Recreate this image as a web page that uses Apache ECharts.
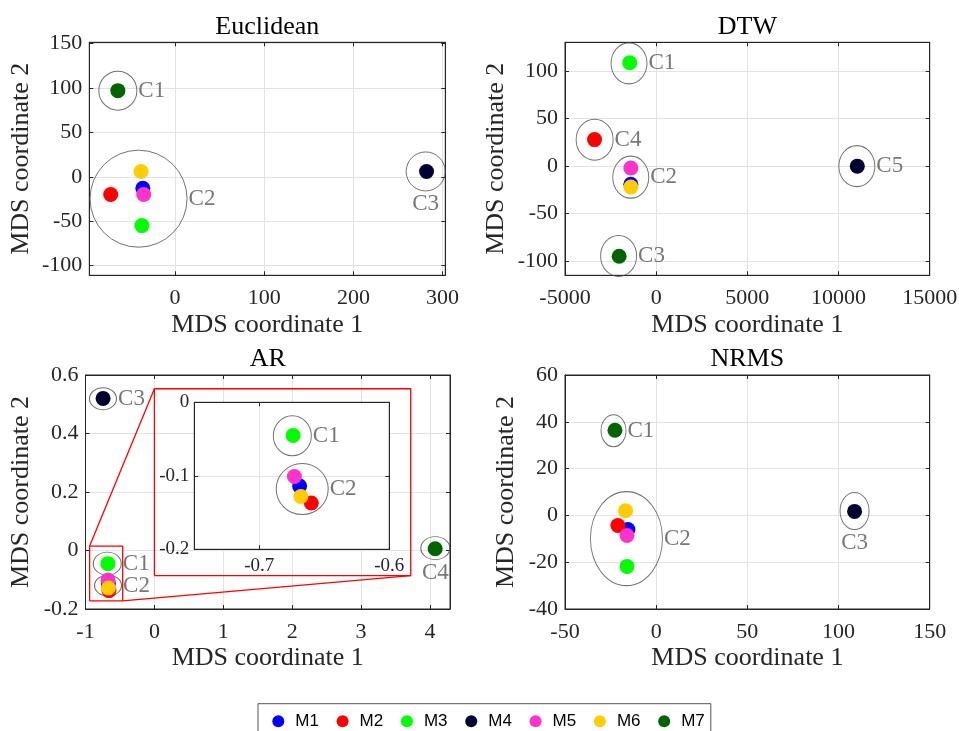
<!DOCTYPE html>
<html><head><meta charset="utf-8">
<script src="https://cdn.jsdelivr.net/npm/echarts@6/dist/echarts.min.js"></script>
<style>html,body{margin:0;padding:0;background:#fff}#c{width:959px;height:731px}</style>
</head><body><div id="c"></div><script>
// ---------------- DATA ----------------
const methods = ['M1','M2','M3','M4','M5','M6','M7'];

const euclideanX = [-36, -72, -37, 282, -35, -38, -64];
const euclideanY = [-13, -20, -55, 6, -20, 6, 97];
const dtwX = [-1390, -3380, -1450, 11030, -1390, -1390, -2030];
const dtwY = [-19, 28, 109, 0, -2, -22, -95];
const arX = [-0.669, -0.660, -0.674, -0.745, -0.673, -0.668, 4.075];
const arY = [-0.114, -0.137, -0.045, 0.52, -0.101, -0.128, 0.006];
const nrmsX = [-15.5, -21, -16, 108.8, -16, -16.8, -22.6];
const nrmsY = [-6, -4.3, -21.8, 1.7, -8.6, 2.0, 36.4];

const euclideanClusterNames = ['C1','C2','C3'];
const euclideanClusterX = [-64, -40.8, 281];
const euclideanClusterY = [97, -24.7, 6];
const dtwClusterNames = ['C1','C2','C3','C4','C5'];
const dtwClusterX = [-1490, -1395, -2060, -3375, 11005];
const dtwClusterY = [108.3, -11.6, -94.6, 27.9, 0];
const arClusterNames = ['C1','C2','C3','C4'];
const arClusterX = [-0.684, -0.673, -0.746, 4.077];
const arClusterY = [-0.045, -0.12, 0.519, 0.008];
const arInsetClusterNames = ['C1','C2'];
const arInsetClusterX = [-0.6746, -0.667];
const arInsetClusterY = [-0.0456, -0.118];
const nrmsClusterNames = ['C1','C2','C3'];
const nrmsClusterX = [-23.4, -16.3, 108.8];
const nrmsClusterY = [36.2, -9.9, 1.9];

// zoom call-out in the AR panel (data units)
const arZoomBoxX = [-0.94, -0.46];
const arZoomBoxY = [-0.172, 0.015];
const arInsetFrameX = [0, 3.72];
const arInsetFrameY = [-0.086, 0.553];

// ---------------- STYLE ----------------
const pointColors = ['#0000FF','#FF0000','#00FF00','#000033','#FF33CC','#FFCC00','#006400'];
const SERIF = 'Liberation Serif';
const axisColor = '#262626';

const grids = [
  {left: 89.3, top: 42.3, width: 356, height: 233},
  {left: 565, top: 42.3, width: 364.7, height: 233},
  {left: 85.5, top: 375, width: 364.5, height: 234},
  {left: 565, top: 375, width: 364.7, height: 234},
  {left: 194.3, top: 402.3, width: 195, height: 147}
];
const axisSpecs = [
  {x:{min:-96,max:303,split:4,step:100}, y:{min:-111,max:151.5,split:5,step:50}, yGap:55},
  {x:{min:-5000,max:15000,interval:5000,step:5000}, y:{min:-115,max:130.5,split:5,step:50}, yGap:55.5},
  {x:{min:-1,max:4.29,interval:1,step:1}, y:{min:-0.2,max:0.6,interval:0.2,step:0.2}, yGap:51.7},
  {x:{min:-50,max:150,interval:50,step:50}, y:{min:-40,max:60,interval:20,step:20}, yGap:45.8},
  {x:{min:-0.75,max:-0.6,split:2,step:0.1}, y:{min:-0.2,max:0,interval:0.1,step:0.1}, inset:true}
];
const titles = ['Euclidean','DTW','AR','NRMS'];

const clusterSets = [
  {gi:0, names:euclideanClusterNames, xs:euclideanClusterX, ys:euclideanClusterY,
   size:[[38,39],[97,97],[39,39]], pos:['right','right','bottom']},
  {gi:1, names:dtwClusterNames, xs:dtwClusterX, ys:dtwClusterY,
   size:[[36,41],[36,42],[36,41],[37,41],[36,41]], pos:['right','right','right','right','right']},
  {gi:2, names:arClusterNames, xs:arClusterX, ys:arClusterY,
   size:[[28,23],[27,21],[27,22],[29,23]], pos:['right','right','right','bottom']},
  {gi:3, names:nrmsClusterNames, xs:nrmsClusterX, ys:nrmsClusterY,
   size:[[25,32],[72,94],[29,37]], pos:['right','right','bottom']},
  {gi:4, names:arInsetClusterNames, xs:arInsetClusterX, ys:arInsetClusterY,
   size:[[38,40],[52,51]], pos:['right','right']}
];
const pointSets = [
  {gi:0, xs:euclideanX, ys:euclideanY},
  {gi:1, xs:dtwX, ys:dtwY},
  {gi:2, xs:arX, ys:arY},
  {gi:3, xs:nrmsX, ys:nrmsY},
  {gi:4, xs:arX, ys:arY}
];

function fmtFactory(step){
  return function(v){
    const k = v/step;
    if (Math.abs(k - Math.round(k)) > 1e-6) return '';
    let s = parseFloat(v.toFixed(6)).toString();
    if (s === '-0') s = '0';
    return s;
  };
}

const xAxes = [], yAxes = [], gridOpts = [];
grids.forEach((g, gi) => {
  const spec = axisSpecs[gi];
  const inset = !!spec.inset;
  const z = inset ? 1 : 0;
  gridOpts.push(Object.assign({}, g, {
    show: true, borderColor: axisColor, borderWidth: 1,
    backgroundColor: inset ? '#ffffff' : 'transparent',
    containLabel: false, outerBoundsMode: 'none', z: z
  }));
  const tickFont = inset ? 19 : 22;
  function base(s){
    const o = {type:'value', gridIndex: gi, min: s.min, max: s.max, z: z};
    if (s.interval !== undefined) o.interval = s.interval; else o.splitNumber = s.split;
    return o;
  }
  const common = {
    axisLine: {show: true, onZero: false, lineStyle: {color: axisColor, width: 1}},
    axisTick: {show: true, inside: true, length: 4, lineStyle: {color: axisColor, width: 1}}
  };
  xAxes.push(Object.assign(base(spec.x), common, {
    position: 'bottom',
    axisLabel: {show: true, margin: inset ? 7 : 12, formatter: fmtFactory(spec.x.step),
      fontFamily: SERIF, fontSize: tickFont, color: axisColor},
    splitLine: {show: true, showMinLine: false, showMaxLine: false, lineStyle: {color: '#e3e3e3', width: 1}},
    name: inset ? '' : 'MDS coordinate 1', nameLocation: 'middle', nameGap: 36.5,
    nameTextStyle: {fontFamily: SERIF, fontSize: 26, color: axisColor}
  }));
  xAxes.push(Object.assign(base(spec.x), common, {
    position: 'top', axisLabel: {show: false}, splitLine: {show: false}
  }));
  yAxes.push(Object.assign(base(spec.y), common, {
    position: 'left',
    axisLabel: {show: true, margin: inset ? 5 : 7, formatter: fmtFactory(spec.y.step),
      fontFamily: SERIF, fontSize: tickFont, color: axisColor},
    splitLine: {show: true, showMinLine: false, showMaxLine: false, lineStyle: {color: '#e3e3e3', width: 1}},
    name: inset ? '' : 'MDS coordinate 2', nameLocation: 'middle', nameGap: spec.yGap || 50,
    nameTextStyle: {fontFamily: SERIF, fontSize: 26, color: axisColor}
  }));
  yAxes.push(Object.assign(base(spec.y), common, {
    position: 'right', axisLabel: {show: false}, splitLine: {show: false}
  }));
});

const series = [];
clusterSets.forEach(cs => {
  series.push({
    type: 'scatter', name: 'clusters' + cs.gi,
    xAxisIndex: cs.gi*2, yAxisIndex: cs.gi*2,
    symbol: 'circle', silent: true, z: 2,
    itemStyle: {color: 'rgba(0,0,0,0)', borderColor: '#4d4d4d', borderWidth: 1},
    label: {show: true, formatter: '{b}', distance: 1, color: '#555555',
      fontFamily: SERIF, fontSize: 23},
    emphasis: {disabled: true},
    data: cs.names.map((n, k) => ({
      name: n, value: [cs.xs[k], cs.ys[k]], symbolSize: cs.size[k],
      label: {position: cs.pos[k]}
    }))
  });
});
pointSets.forEach(ps => {
  methods.forEach((m, i) => {
    series.push({
      type: 'scatter', name: m, xAxisIndex: ps.gi*2, yAxisIndex: ps.gi*2,
      symbol: 'circle', symbolSize: 15, z: 3, silent: true, clip: true,
      itemStyle: {color: pointColors[i], opacity: 1},
      emphasis: {disabled: true},
      data: [[ps.xs[i], ps.ys[i]]]
    });
  });
});
function poly(pts){
  return {type:'line', xAxisIndex: 4, yAxisIndex: 4, data: pts, symbol: 'none', silent: true,
    z: 2, lineStyle: {color: '#ff0000', width: 1.3}, emphasis: {disabled: true}};
}
const bx = arZoomBoxX, by = arZoomBoxY, fx = arInsetFrameX, fy = arInsetFrameY;
series.push(poly([[bx[0],by[0]],[bx[1],by[0]],[bx[1],by[1]],[bx[0],by[1]],[bx[0],by[0]]]));
series.push(poly([[fx[0],fy[0]],[fx[1],fy[0]],[fx[1],fy[1]],[fx[0],fy[1]],[fx[0],fy[0]]]));
series.push(poly([[bx[0],by[1]],[fx[0],fy[1]]]));
series.push(poly([[bx[1],by[0]],[fx[1],fy[0]]]));

const titleOpts = titles.map((t, i) => {
  const g = grids[i];
  return {text: t, left: g.left + g.width/2, top: g.top - 28.5, textAlign: 'center', padding: 0,
    textStyle: {fontFamily: SERIF, fontSize: 26, fontWeight: 'normal', color: '#000'}};
});

const chart = echarts.init(document.getElementById('c'), null, {renderer: 'canvas'});
chart.setOption({
  animation: false,
  backgroundColor: '#ffffff',
  title: titleOpts,
  grid: gridOpts,
  xAxis: xAxes,
  yAxis: yAxes,
  legend: {
    data: methods.map(n => ({name: n, icon: 'circle'})),
    left: 258, top: 703.7, orient: 'horizontal',
    itemWidth: 12, itemHeight: 12, itemGap: 17.7,
    padding: [9, 6, 6, 14.3], borderColor: '#555555', borderWidth: 1,
    textStyle: {fontFamily: 'Liberation Sans', fontSize: 17, color: '#000', padding: [0, 0, 0, 6]},
    selectedMode: false
  },
  series: series
});
</script></body></html>
